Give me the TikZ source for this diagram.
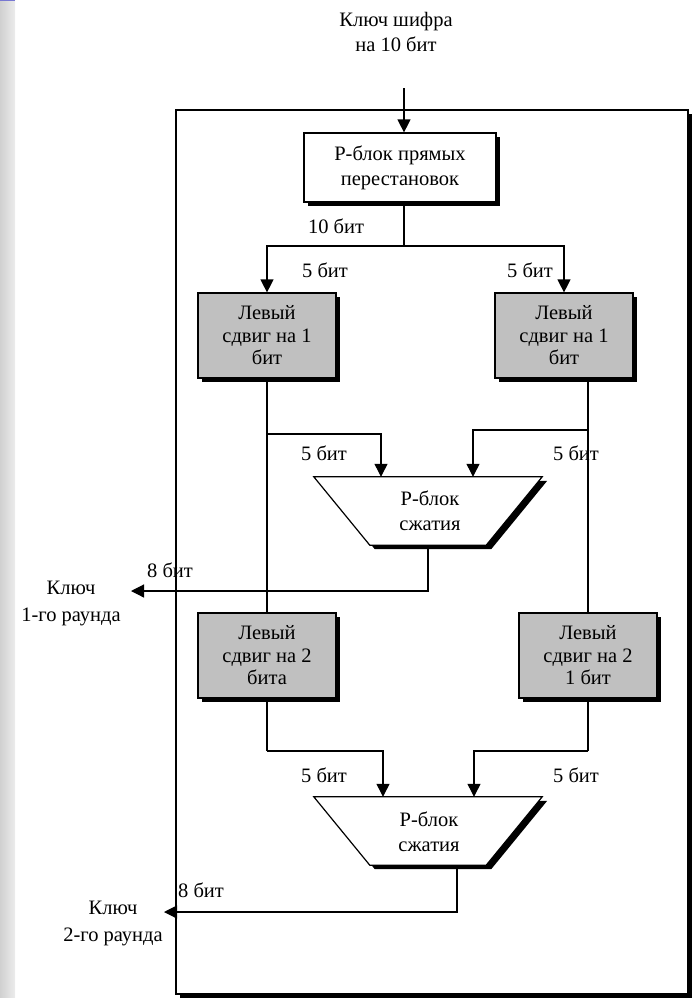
\documentclass[tikz,border=0pt]{standalone}
\usepackage{fontspec}
\setmainfont{Liberation Serif}
\usetikzlibrary{arrows.meta,shadows,calc}
\definecolor{boxgray}{RGB}{192,192,192}
\definecolor{stripdark}{RGB}{208,208,208}
\definecolor{striplight}{RGB}{236,236,236}
\definecolor{slideblue}{RGB}{120,120,210}
\begin{document}
\begin{tikzpicture}[x=1pt,y=-1pt,
  lbl/.style={font=\fontsize{20.5}{25}\selectfont, align=center, inner sep=0pt},
  conn/.style={line width=1.2pt, draw=black},
  arr/.style={conn, -{Triangle[length=13pt,width=13pt]}},
  shade4/.style={general shadow={fill=black, shadow xshift=4pt, shadow yshift=-4pt}},
  wbox/.style={conn, fill=white, shade4, minimum width=192pt, minimum height=69pt,
    inner sep=0pt, align=center, font=\fontsize{20.5}{25}\selectfont},
  gbox/.style={conn, fill=boxgray, shade4, minimum width=138pt, minimum height=85pt,
    inner sep=0pt, align=center, font=\fontsize{20.5}{22.5}\selectfont},
  trapbox/.style={minimum width=228pt, minimum height=68pt, inner sep=0pt},
  framebox/.style={draw=black, line width=1.5pt, fill=white, minimum width=512pt,
    minimum height=884pt, inner sep=0pt,
    general shadow={fill=black, shadow xshift=4pt, shadow yshift=-4pt}}]

\useasboundingbox (0,0) rectangle (693,998);

% slide edge on the left
\shade[left color=stripdark, right color=striplight] (0,0) rectangle (15,998);
\fill[slideblue] (0,0) rectangle (15,1.5);

% outer frame of the key generator
\node[framebox] (frame) at (432,552) {};

% input key
\node[lbl] (key) at (396,32) {Ключ шифра\\на 10 бит};
\coordinate (kin) at (404,88);

% straight permutation
\node[wbox] (pb) at (400,167.5) {P-блок прямых\\перестановок};
\draw[arr] (kin) -- (kin |- pb.north);

% split into two halves
\coordinate (split) at (404,246);
\node[gbox] (l1) at (267,335.5) {Левый\\сдвиг на 1\\бит};
\node[gbox] (r1) at (564,335.5) {Левый\\сдвиг на 1\\бит};
\draw[conn] (pb.south -| split) -- (split);
\draw[arr] (split) -| (l1.north);
\draw[arr] (split) -| (r1.north);
\node[lbl] (t10) at (336,226) {10 бит};
\node[lbl] (t5a) at (325,270) {5 бит};
\node[lbl] (t5b) at (530,270) {5 бит};

% second shifts
\node[gbox] (l2) at (267,655.5) {Левый\\сдвиг на 2\\бита};
\node[gbox] (r2) at (588,655.5) {Левый\\сдвиг на 2\\1 бит};

% first compression box
\node[trapbox] (c1) at (428,511) {};
\fill[black] ([shift={(5,4)}]c1.north west) -- ([shift={(5,4)}]c1.north east)
  -- ([shift={(-51,4)}]c1.south east) -- ([shift={(61,4)}]c1.south west) -- cycle;
\draw[conn, fill=white] (c1.north west) -- (c1.north east)
  -- ([xshift=-56]c1.south east) -- ([xshift=56]c1.south west) -- cycle;
\node[lbl] (c1t) at (430,511) {P-блок\\сжатия};

% second compression box
\node[trapbox] (c2) at (428,831) {};
\fill[black] ([shift={(5,4)}]c2.north west) -- ([shift={(5,4)}]c2.north east)
  -- ([shift={(-51,4)}]c2.south east) -- ([shift={(61,4)}]c2.south west) -- cycle;
\draw[conn, fill=white] (c2.north west) -- (c2.north east)
  -- ([xshift=-56]c2.south east) -- ([xshift=56]c2.south west) -- cycle;
\node[lbl] (c2t) at (429,832) {P-блок\\сжатия};

% vertical paths of the halves
\draw[conn] (l1.south) -- (l2.north);
\draw[conn] (r2.north |- r1.south) -- (r2.north);

% taps into the first compression box
\coordinate (b1l) at (267,434);
\coordinate (b1r) at (588,430);
\draw[arr] (b1l) -| ([xshift=-47]c1.north);
\draw[arr] (b1r) -| ([xshift=45]c1.north);
\node[lbl] (t5c) at (324,453) {5 бит};
\node[lbl] (t5d) at (576,453) {5 бит};

% round key 1
\coordinate (k1tip) at (131,591);
\draw[arr] (c1.south) |- (k1tip);
\node[lbl] (t8a) at (170,570) {8 бит};
\node[lbl, font=\fontsize{20.5}{27}\selectfont] (key1) at (71,603) {Ключ\\1-го раунда};

% taps into the second compression box
\coordinate (b2l) at (267,751);
\coordinate (b2r) at (588,751);
\draw[conn] (l2.south) -- (b2l);
\draw[conn] (r2.south) -- (b2r);
\draw[arr] (b2l) -| ([xshift=-45]c2.north);
\draw[arr] (b2r) -| ([xshift=46]c2.north);
\node[lbl] (t5e) at (324,775) {5 бит};
\node[lbl] (t5f) at (576,775) {5 бит};

% round key 2
\coordinate (k2tip) at (164,912);
\draw[arr] ([xshift=29]c2.south) |- (k2tip);
\node[lbl] (t8b) at (201,890) {8 бит};
\node[lbl, font=\fontsize{20.5}{27}\selectfont] (key2) at (113,923) {Ключ\\2-го раунда};

\end{tikzpicture}
\end{document}
